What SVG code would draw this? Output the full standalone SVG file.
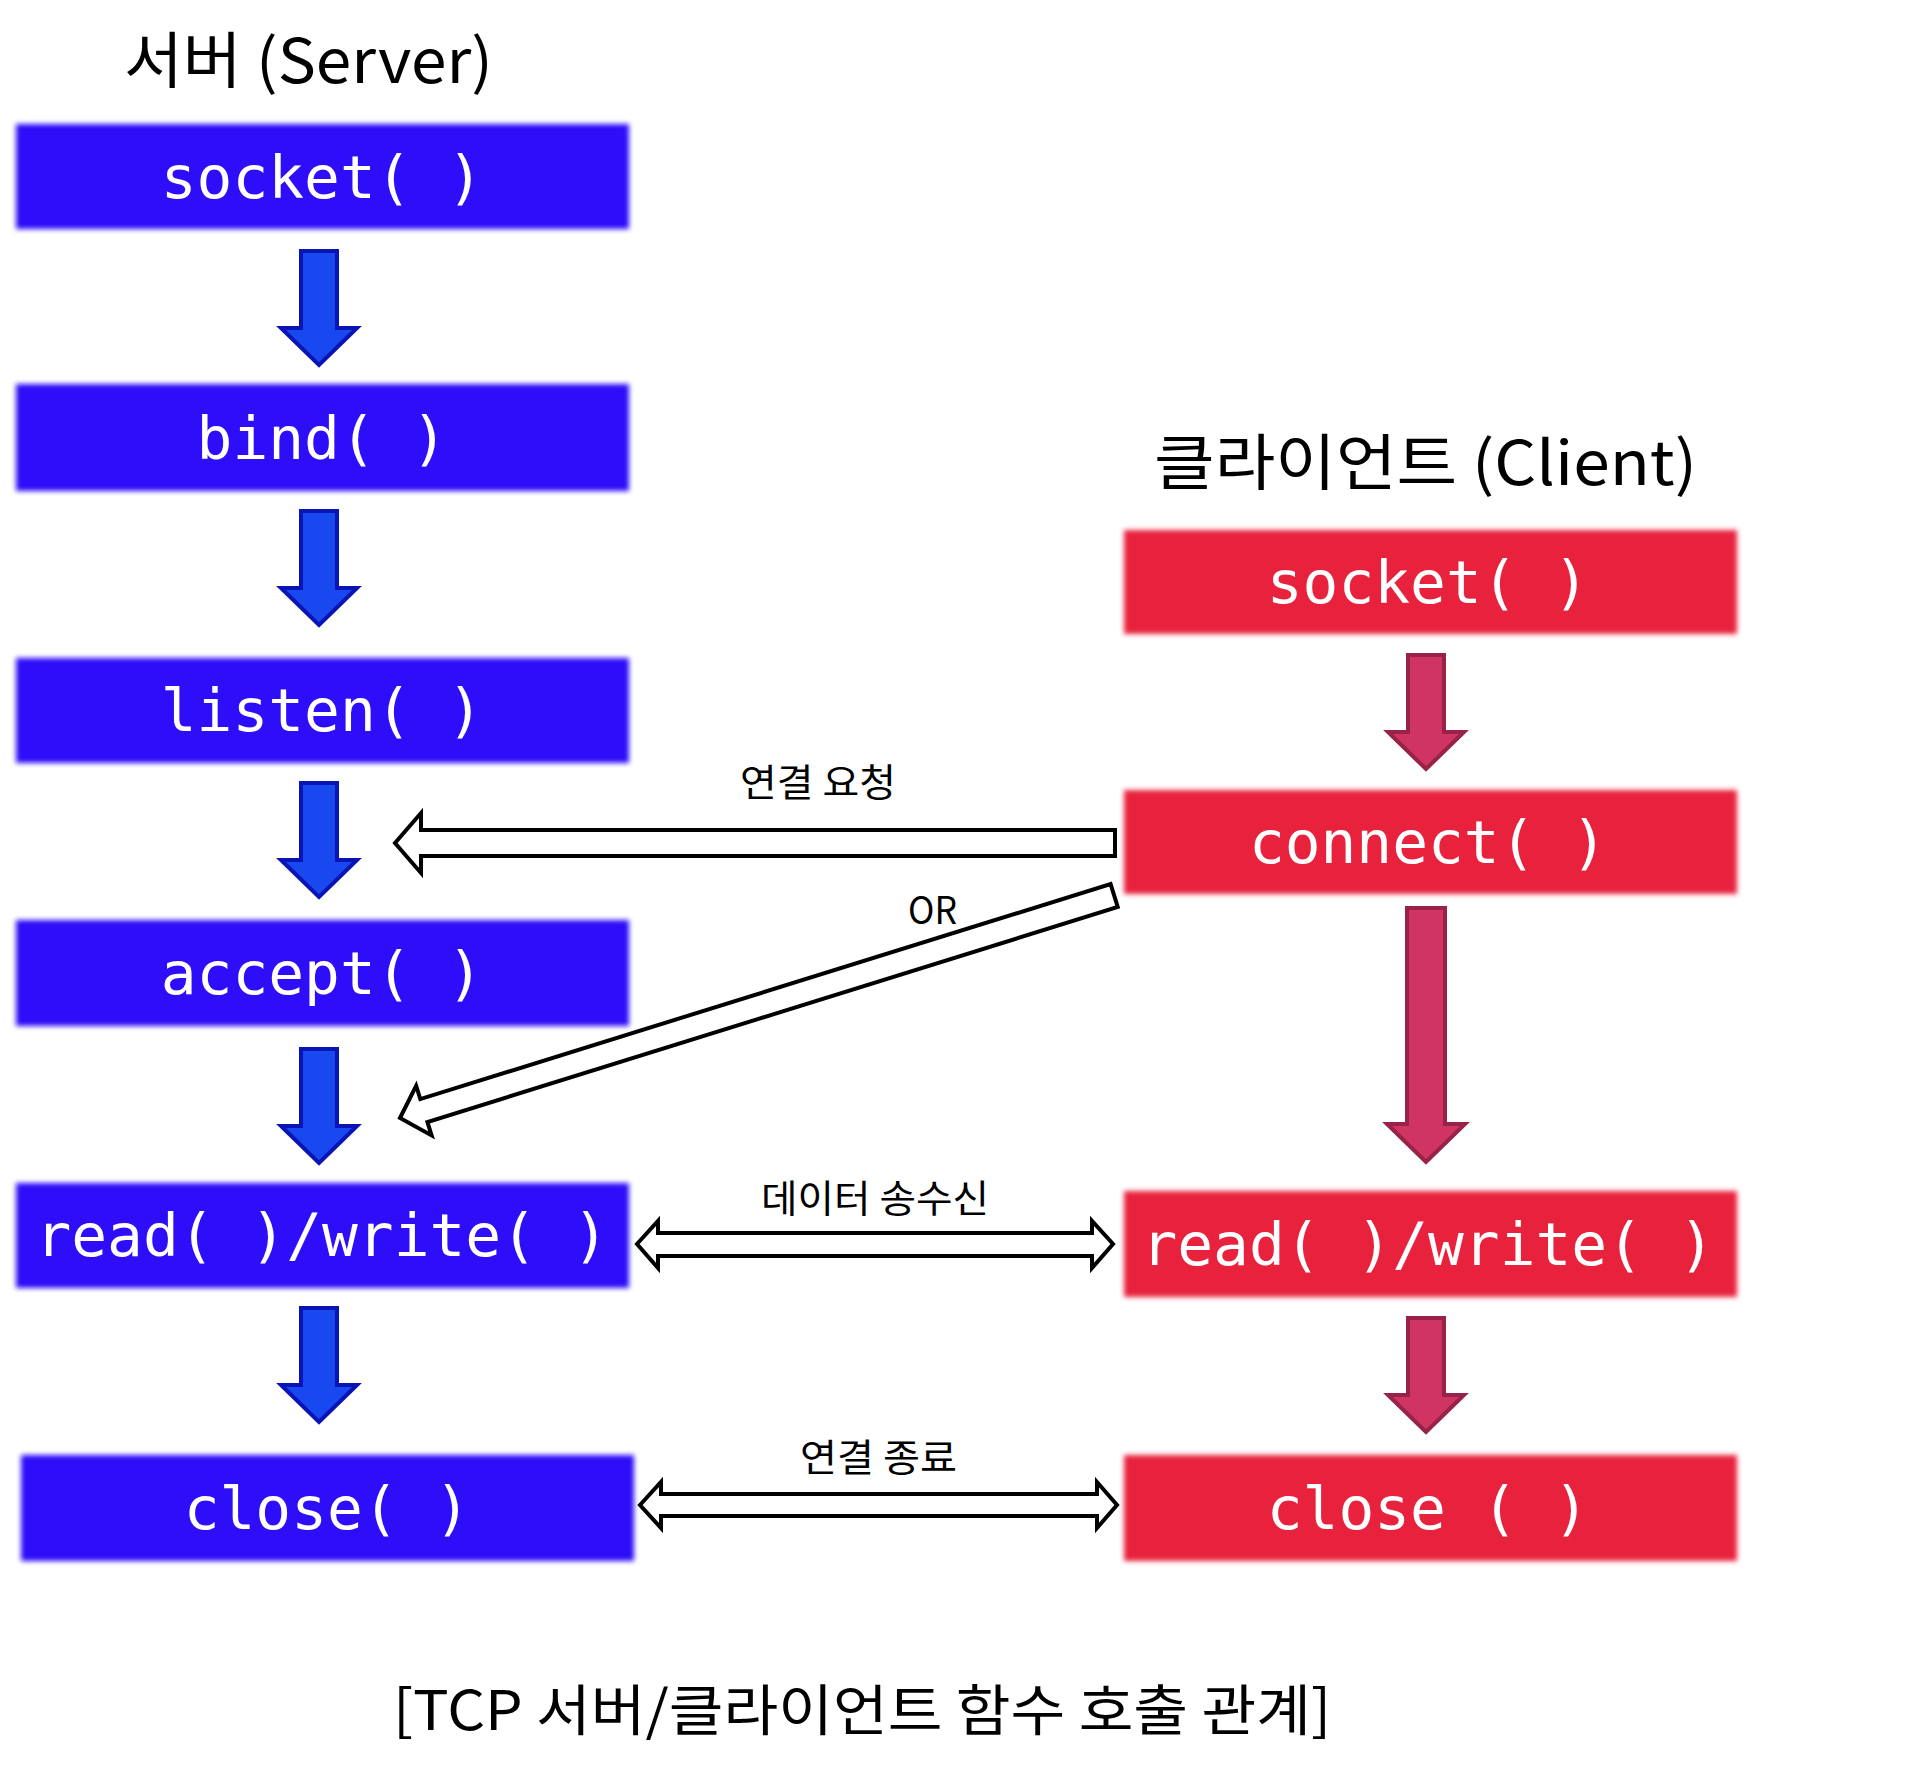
<svg xmlns="http://www.w3.org/2000/svg" xmlns:xlink="http://www.w3.org/1999/xlink" width="1924" height="1775" viewBox="0 0 1924 1775">
<style>
.sbox{fill:#2e10f8;filter:url(#soft)}
.cbox{fill:#e8203e;filter:url(#soft)}
.lbl{font-family:"DejaVu Sans Mono",monospace;font-size:59.5px;fill:#ffffff;text-anchor:middle}
.ttl{font-family:"Noto Sans CJK KR","Noto Sans",sans-serif;fill:#000}
.note{font-family:"Noto Sans CJK KR","Noto Sans",sans-serif;font-size:38px;fill:#000}
.sarr{fill:#1848f0;stroke:#0a14b4;stroke-width:4}
.carr{fill:#d03462;stroke:#982248;stroke-width:4}
.hol{fill:#fff;stroke:#000;stroke-width:4;stroke-linejoin:miter}
</style>
<defs>
<filter id="soft" x="-5%" y="-10%" width="110%" height="120%"><feGaussianBlur stdDeviation="2.5"/></filter>
<path id="downS" d="M-18,0 L18,0 L18,77 L38,77 L0,114 L-38,77 L-18,77 Z"/>
</defs>
<rect width="1924" height="1775" fill="#fff"/>

<g id="titles">
<text class="ttl" x="124" y="83" font-size="61" textLength="369" lengthAdjust="spacingAndGlyphs">서버 (Server)</text>
<text class="ttl" x="1154" y="485" font-size="61" textLength="543" lengthAdjust="spacingAndGlyphs">클라이언트 (Client)</text>
</g>

<g id="server-socket"><rect class="sbox" x="16" y="124" width="613" height="105"/><text class="lbl" x="322" y="198">socket( )</text></g>
<g id="server-bind"><rect class="sbox" x="16" y="384" width="613" height="107"/><text class="lbl" x="322" y="459">bind( )</text></g>
<g id="server-listen"><rect class="sbox" x="16" y="658" width="613" height="105"/><text class="lbl" x="322" y="731">listen( )</text></g>
<g id="server-accept"><rect class="sbox" x="16" y="920" width="613" height="106"/><text class="lbl" x="322" y="994">accept( )</text></g>
<g id="server-rw"><rect class="sbox" x="16" y="1183" width="613" height="105"/><text class="lbl" x="322" y="1256">read( )/write( )</text></g>
<g id="server-close"><rect class="sbox" x="21" y="1455" width="613" height="106"/><text class="lbl" x="327" y="1529">close( )</text></g>

<g id="client-socket"><rect class="cbox" x="1124" y="530" width="613" height="104"/><text class="lbl" x="1428" y="603">socket( )</text></g>
<g id="client-connect"><rect class="cbox" x="1124" y="790" width="613" height="104"/><text class="lbl" x="1428" y="863">connect( )</text></g>
<g id="client-rw"><rect class="cbox" x="1124" y="1191" width="613" height="106"/><text class="lbl" x="1428" y="1265">read( )/write( )</text></g>
<g id="client-close"><rect class="cbox" x="1124" y="1455" width="613" height="106"/><text class="lbl" x="1428" y="1529">close ( )</text></g>

<g id="connectors">
<use xlink:href="#downS" class="sarr" transform="translate(319,251)"/>
<use xlink:href="#downS" class="sarr" transform="translate(319,511)"/>
<use xlink:href="#downS" class="sarr" transform="translate(319,783)"/>
<use xlink:href="#downS" class="sarr" transform="translate(319,1049)"/>
<use xlink:href="#downS" class="sarr" transform="translate(319,1308)"/>
<use xlink:href="#downS" class="carr" transform="translate(1426,655)"/>
<path class="carr" d="M1407,908 L1445,908 L1445,1124 L1465,1124 L1426,1162 L1387,1124 L1407,1124 Z"/>
<use xlink:href="#downS" class="carr" transform="translate(1426,1318)"/>
<path class="hol" d="M395,843 L421,813 L421,830 L1115,830 L1115,856 L421,856 L421,873 Z"/>
<path class="hol" transform="translate(400,1118) rotate(-17.3)" d="M0,0 L25,-26 L25,-12 L748,-12 L748,12 L25,12 L25,26 Z"/>
<path class="hol" d="M637,1244 L658,1221 L658,1233 L1092,1233 L1092,1221 L1113,1244 L1092,1268 L1092,1256 L658,1256 L658,1268 Z"/>
<path class="hol" d="M640,1505 L661,1482 L661,1494 L1097,1494 L1097,1482 L1117,1505 L1097,1528 L1097,1516 L661,1516 L661,1528 Z"/>
<text class="note" x="740" y="796" textLength="156" lengthAdjust="spacingAndGlyphs">연결 요청</text>
<text class="note" x="908" y="924" font-size="34" textLength="49" lengthAdjust="spacingAndGlyphs">OR</text>
<text class="note" x="761" y="1212" textLength="228" lengthAdjust="spacingAndGlyphs">데이터 송수신</text>
<text class="note" x="800" y="1471" textLength="157" lengthAdjust="spacingAndGlyphs">연결 종료</text>
</g>

<g id="caption">
<text class="ttl" x="393" y="1730" font-size="55" textLength="938" lengthAdjust="spacingAndGlyphs">[TCP 서버/클라이언트 함수 호출 관계]</text>
</g>
</svg>
